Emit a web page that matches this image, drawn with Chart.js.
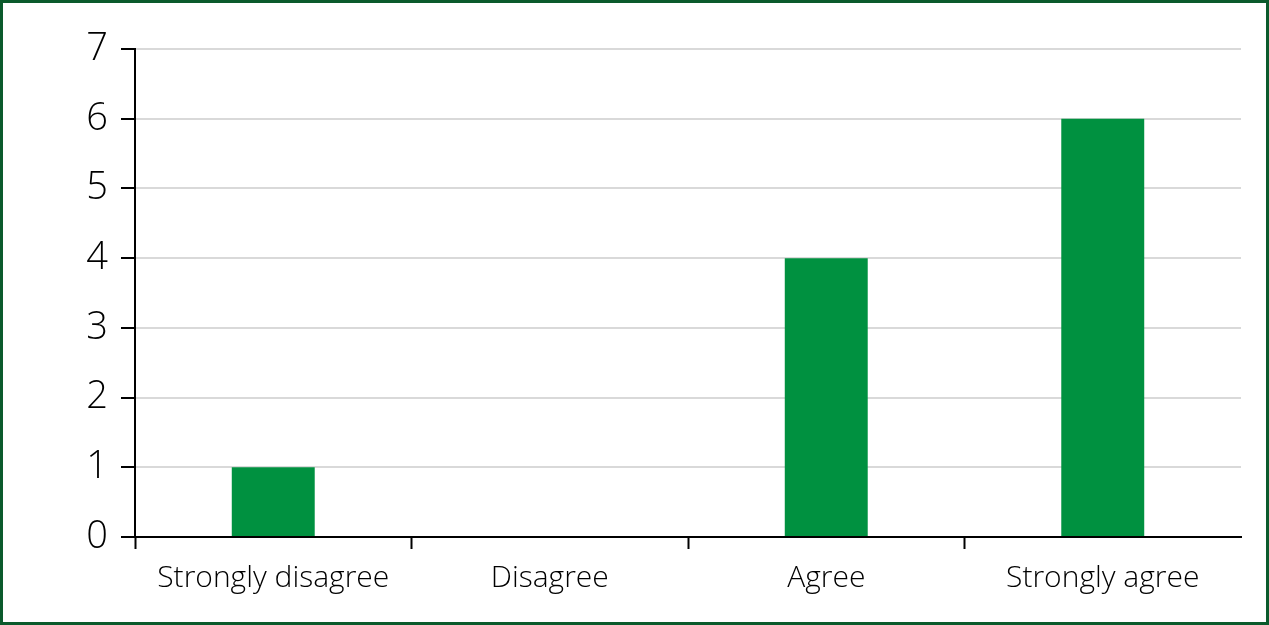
<!DOCTYPE html>
<html>
<head>
<meta charset="utf-8">
<script src="https://cdn.jsdelivr.net/npm/chart.js@4/dist/chart.umd.min.js"></script>
<style>
html,body{margin:0;padding:0;background:#fff;}
#wrap{position:relative;width:1269px;height:625px;}
canvas{display:block;}
</style>
</head>
<body>
<div id="wrap"><canvas id="c" width="1269" height="625"></canvas></div>
<script>
const categories = ["Strongly disagree", "Disagree", "Agree", "Strongly agree"];
const counts = [1, 0, 4, 6];
const yTicks = [0, 1, 2, 3, 4, 5, 6, 7];

const FONT = "'Open Sans', 'Noto Sans', sans-serif";

const frame = {
  id: 'frame',
  afterDraw(chart) {
    const ctx = chart.ctx;
    ctx.save();
    ctx.strokeStyle = '#0b5a2c';
    ctx.lineWidth = 3;
    ctx.strokeRect(1.5, 1.5, chart.width - 3, chart.height - 3);
    ctx.restore();
  }
};

new Chart(document.getElementById('c'), {
  type: 'bar',
  data: {
    labels: categories,
    datasets: [{
      data: counts,
      backgroundColor: '#009140',
      borderWidth: 0,
      barPercentage: 0.3,
      categoryPercentage: 1.0
    }]
  },
  options: {
    responsive: false,
    animation: false,
    layout: { padding: { top: 49, right: 28, left: 0, bottom: 0 } },
    plugins: { legend: { display: false }, tooltip: { enabled: false } },
    scales: {
      x: {
        grid: {
          display: true,
          drawOnChartArea: false,
          offset: true,
          tickLength: 12,
          tickWidth: 2,
          tickColor: (c) => (c.index === undefined ? 'rgba(0,0,0,0)' : '#000')
        },
        border: { display: true, color: '#000', width: 2 },
        ticks: {
          color: '#000',
          font: { family: FONT, size: 30, weight: 300 },
          padding: 11,
          maxRotation: 0
        },
        afterFit(scale) { scale.height = 625 - 537; }
      },
      y: {
        min: 0,
        max: 7,
        afterBuildTicks(scale) { scale.ticks = yTicks.map(v => ({ value: v })); },
        grid: {
          color: (c) => (c.tick && c.tick.value === 0 ? '#000' : '#d9d9d9'),
          lineWidth: 2,
          tickLength: 14,
          tickWidth: 2,
          tickColor: '#000'
        },
        border: { display: true, color: '#000', width: 2 },
        ticks: {
          color: '#000',
          font: { family: FONT, size: 38, weight: 300 },
          padding: 13
        },
        afterFit(scale) { scale.width = 135; }
      }
    }
  },
  plugins: [frame]
});
</script>
</body>
</html>
